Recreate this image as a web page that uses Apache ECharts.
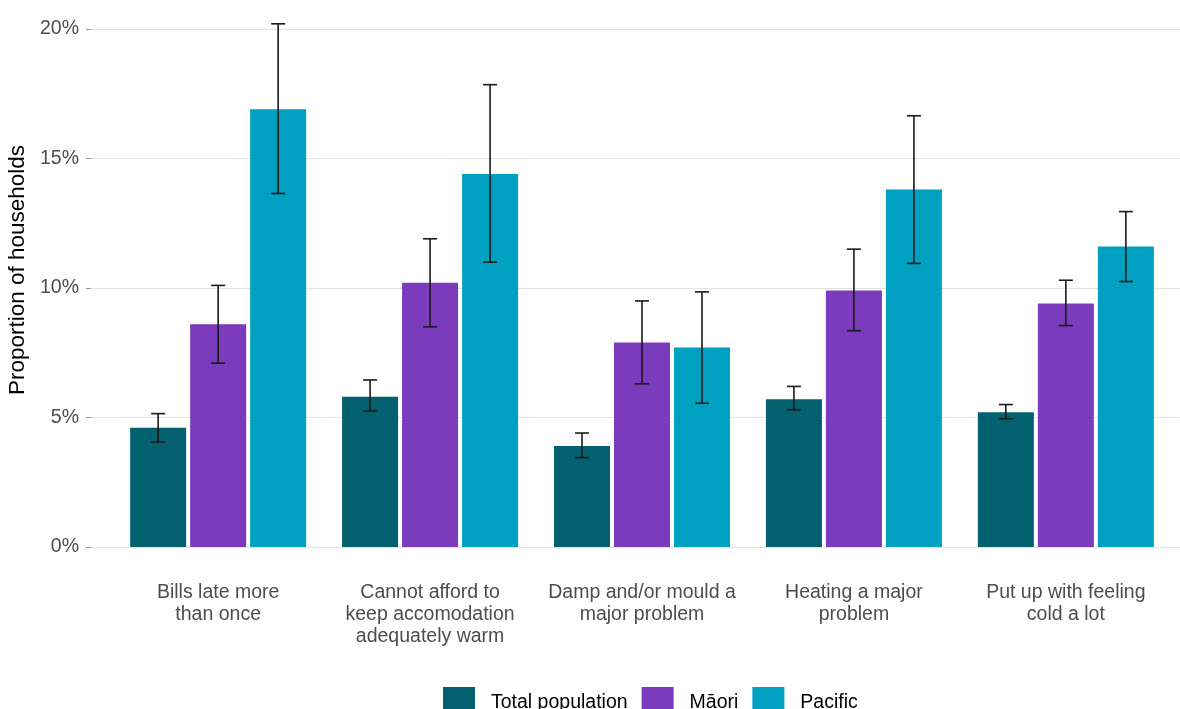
<!DOCTYPE html>
<html><head><meta charset="utf-8">
<script src="https://cdn.jsdelivr.net/npm/echarts@6/dist/echarts.min.js"></script>
<style>html,body{margin:0;padding:0;background:#fff}#c{width:1180px;height:709px}</style>
</head><body><div id="c"></div>
<script>
const categories = ['Bills late more\nthan once', 'Cannot afford to\nkeep accomodation\nadequately warm', 'Damp and/or mould a\nmajor problem', 'Heating a major\nproblem', 'Put up with feeling\ncold a lot'];
const seriesNames = ['Total population', 'Māori', 'Pacific'];
const colors = ['#03606f', '#7a3bbd', '#00a0c0'];
const totalVals = [4.6, 5.8, 3.9, 5.7, 5.2];
const totalLow = [4.05, 5.25, 3.45, 5.3, 4.95];
const totalHigh = [5.15, 6.45, 4.4, 6.2, 5.5];
const maoriVals = [8.6, 10.2, 7.9, 9.9, 9.4];
const maoriLow = [7.1, 8.5, 6.3, 8.35, 8.55];
const maoriHigh = [10.1, 11.9, 9.5, 11.5, 10.3];
const pacificVals = [16.9, 14.4, 7.7, 13.8, 11.6];
const pacificLow = [13.65, 11.0, 5.55, 10.95, 10.25];
const pacificHigh = [20.2, 17.85, 9.85, 16.65, 12.95];
const yTicks = [0, 5, 10, 15, 20];

const vals = [totalVals, maoriVals, pacificVals];
const lows = [totalLow, maoriLow, pacificLow];
const highs = [totalHigh, maoriHigh, pacificHigh];
const FONT = 'Liberation Sans, Arial, sans-serif';
const BAR_W = 56, STEP = 60;

const chart = echarts.init(document.getElementById('c'));
const series = [];
seriesNames.forEach((name, s) => {
  series.push({
    name, type: 'bar', barWidth: BAR_W, barGap: (4 / BAR_W * 100) + '%',
    itemStyle: { color: colors[s] },
    data: vals[s].map((v, i) => [i + 1, v])
  });
});
const errData = [];
seriesNames.forEach((name, s) => {
  vals[s].forEach((v, i) => errData.push([i + 1, lows[s][i], highs[s][i], s]));
});
series.push({
  type: 'custom', silent: true, z: 10,
  data: errData,
  renderItem: (params, api) => {
    const x = api.value(0), lo = api.value(1), hi = api.value(2), s = api.value(3);
    const pLo = api.coord([x, lo]), pHi = api.coord([x, hi]);
    const cx = pLo[0] + (s - 1) * STEP;
    const hw = 7;
    const st = { stroke: '#1a1a1a', lineWidth: 1.6 };
    return { type: 'group', children: [
      { type: 'line', shape: { x1: cx, y1: pLo[1], x2: cx, y2: pHi[1] }, style: st },
      { type: 'line', shape: { x1: cx - hw, y1: pLo[1], x2: cx + hw, y2: pLo[1] }, style: st },
      { type: 'line', shape: { x1: cx - hw, y1: pHi[1], x2: cx + hw, y2: pHi[1] }, style: st }
    ]};
  }
});

chart.setOption({
  animation: false,
  textStyle: { fontFamily: FONT },
  grid: { left: 91, right: -13, top: 29, bottom: 162, containLabel: false, outerBoundsMode: 'none' },
  legend: {
    data: seriesNames, left: 438, top: 682, icon: 'rect',
    itemWidth: 32, itemHeight: 32, itemGap: 14,
    textStyle: { fontSize: 19.5, color: '#000', fontFamily: FONT, padding: [0, 0, 0, 11] }
  },
  xAxis: {
    type: 'value', min: 0.4, max: 5.6,
    axisLine: { show: false }, splitLine: { show: false },
    axisTick: { show: false },
    axisLabel: {
      customValues: [1, 2, 3, 4, 5],
      formatter: v => categories[Math.round(v) - 1] || '',
      fontSize: 19.5, color: '#4d4d4d', lineHeight: 22, margin: 35, fontFamily: FONT,
      verticalAlign: 'top'
    }
  },
  yAxis: {
    type: 'value', min: 0, max: 20, interval: 5,
    name: 'Proportion of households', nameLocation: 'middle', nameGap: 57,
    nameTextStyle: { fontSize: 22.5, color: '#000', fontFamily: FONT, padding: [0, 0, 0, 36] },
    axisLine: { show: false },
    axisTick: { show: true, length: 5, lineStyle: { color: '#9a9a9a' } },
    axisLabel: { formatter: v => yTicks.includes(v) ? v + '%' : '', fontSize: 19.5, color: '#4d4d4d', margin: 12, fontFamily: FONT },
    splitLine: { show: true, lineStyle: { color: '#e3e3e3', width: 1.2 } }
  },
  series
});
</script></body></html>
